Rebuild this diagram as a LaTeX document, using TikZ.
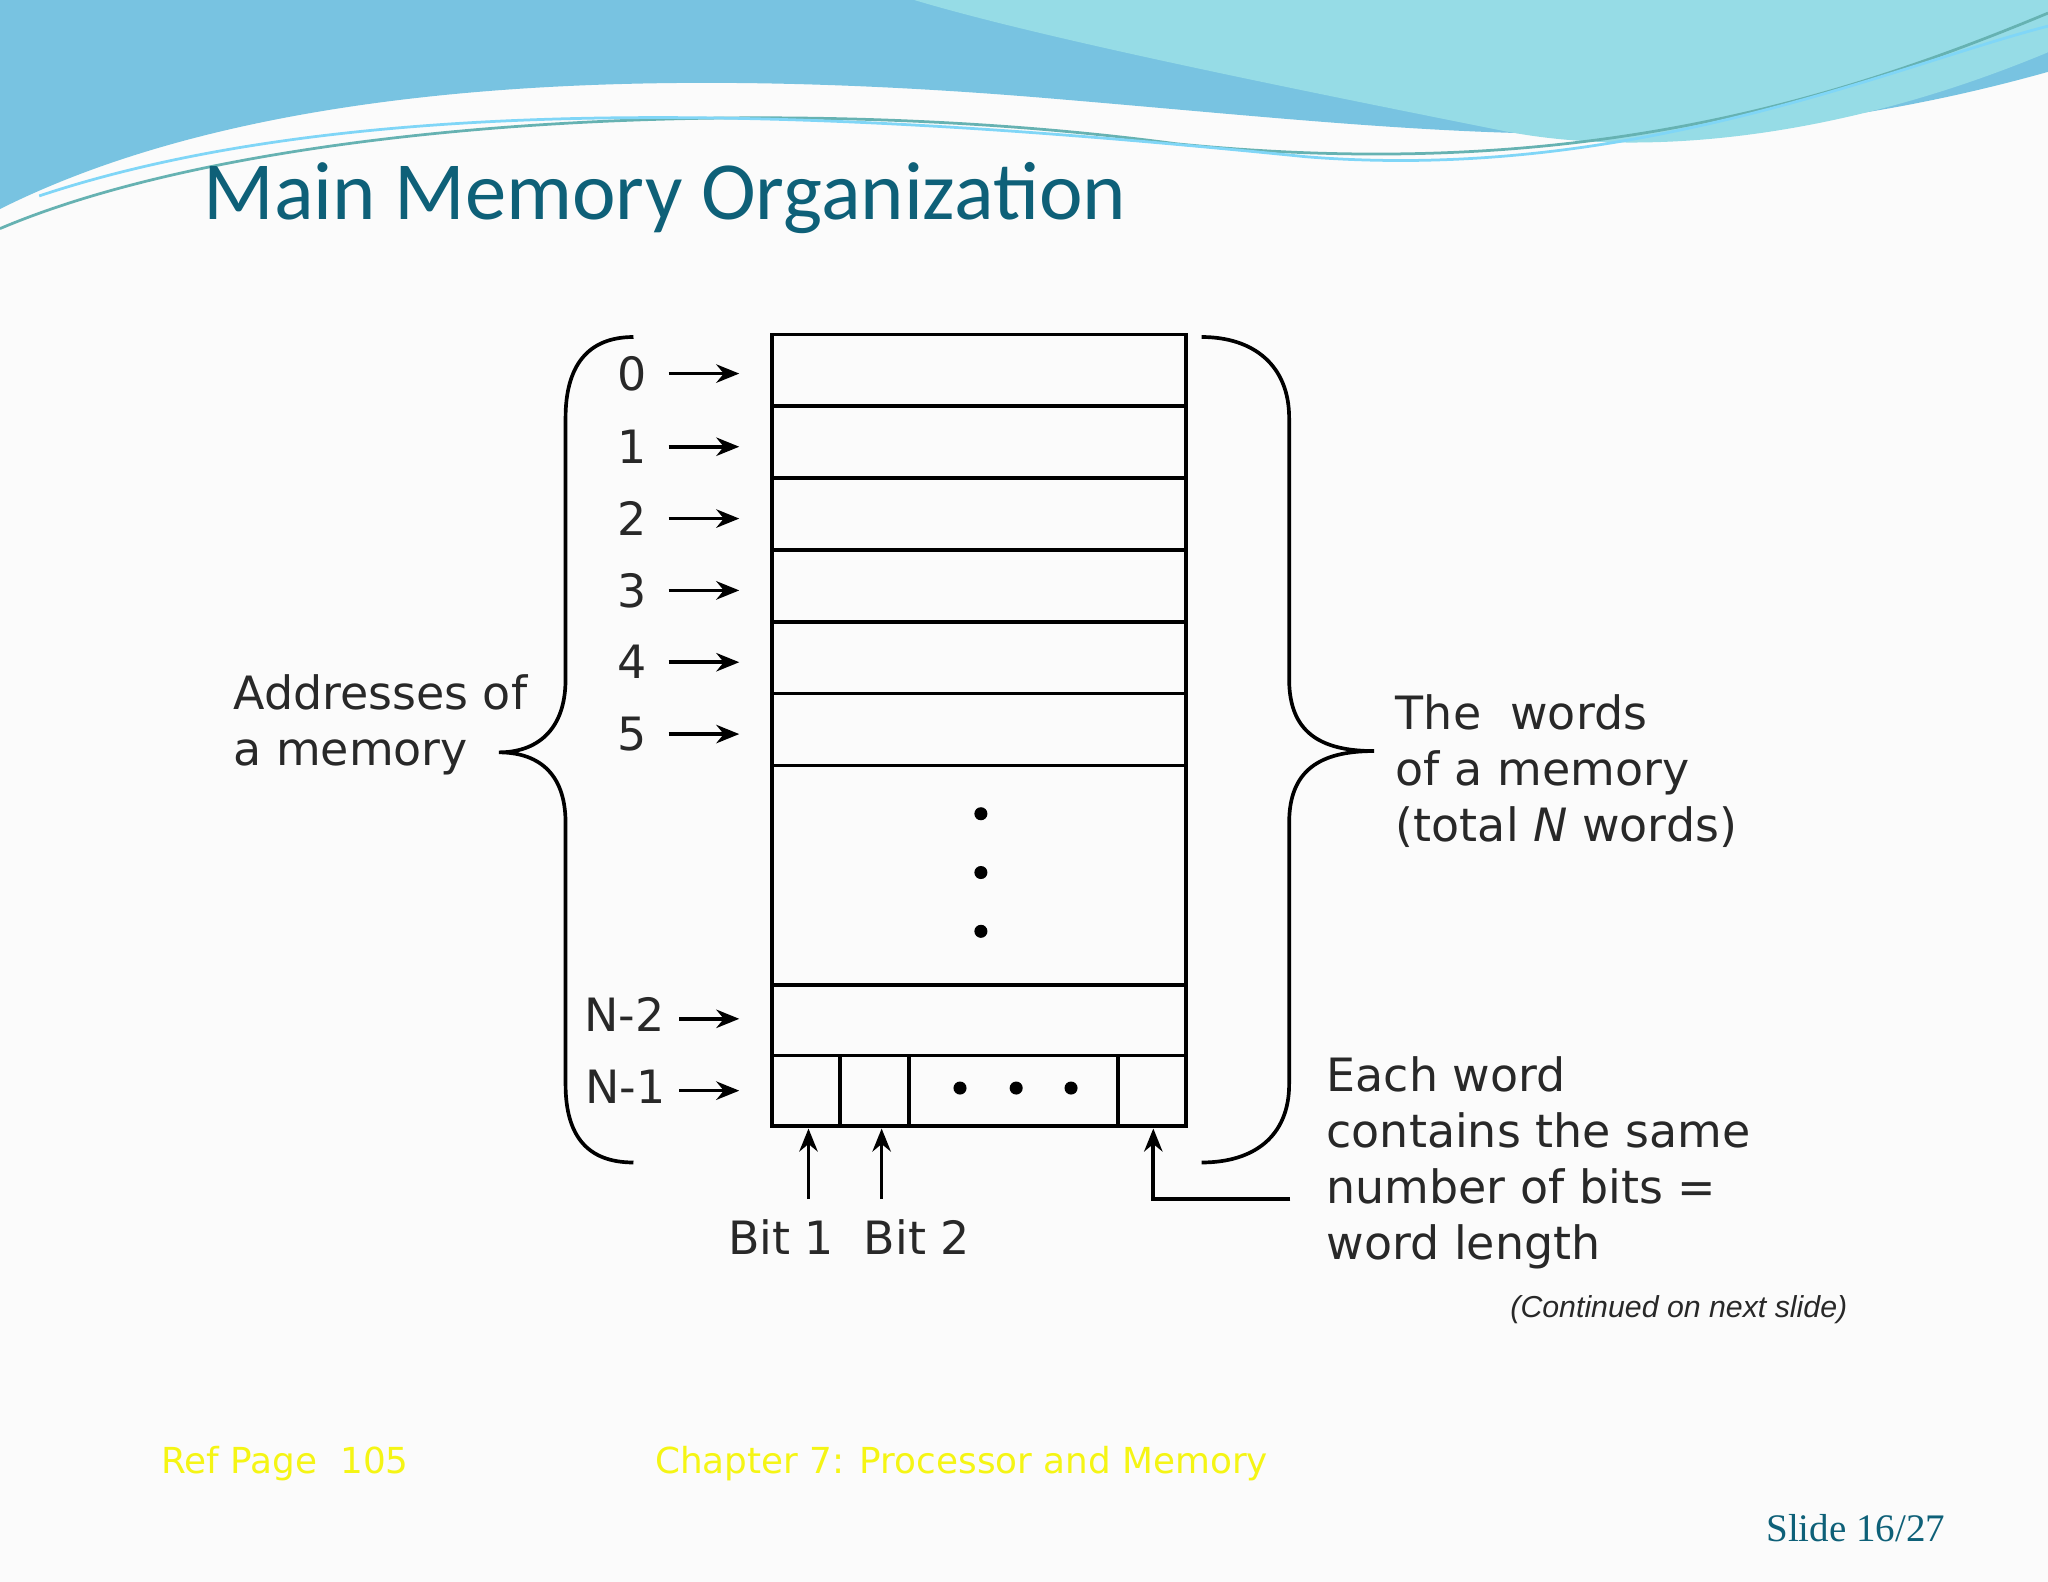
\documentclass[tikz,border=0pt]{standalone}
\usepackage{fontspec}
\setmainfont{DejaVu Sans}
\newfontfamily\titlef{Carlito}
\newfontfamily\arialf{Liberation Sans}
\newfontfamily\serf{Liberation Serif}
\usetikzlibrary{arrows.meta}
\definecolor{ttl}{RGB}{14,96,120}
\definecolor{txt}{RGB}{40,40,40}
\definecolor{yel}{RGB}{245,245,20}
\definecolor{wave1}{RGB}{120,195,225}
\definecolor{wave2}{RGB}{150,220,230}
\begin{document}
\begin{tikzpicture}[
  lbl/.style={font=\fontsize{10}{12.2}\selectfont, text=txt, inner sep=0pt},
  ar/.style={-{Stealth[length=5pt,width=4pt]}, line width=0.8pt},
  ln/.style={line width=0.8pt}]
\useasboundingbox (0,0) rectangle (15.68,-12.11);
\fill[white!97!gray] (0,0) rectangle (15.68,-12.11);
% top waves
\fill[wave1] (0,0) -- (15.68,0) -- (15.68,-0.55) .. controls (13,-1.3) and (11,-1.0) .. (8,-0.75) .. controls (5,-0.5) and (2,-0.6) .. (0,-1.6) -- cycle;
\fill[wave2] (7,0) -- (15.68,0) -- (15.68,-0.4) .. controls (14,-1.1) and (12.5,-1.2) .. (11.5,-1.0) .. controls (10,-0.7) and (8,-0.3) .. (7,0) -- cycle;
\draw[teal!60, line width=0.6pt] (0,-1.75) .. controls (2,-0.9) and (6,-0.7) .. (9,-1.1) .. controls (12,-1.4) and (14,-0.8) .. (15.68,-0.1);
\draw[cyan!50, line width=0.6pt] (0.3,-1.5) .. controls (3,-0.6) and (7,-0.9) .. (10,-1.2) .. controls (12.5,-1.4) and (14.5,-0.5) .. (15.68,-0.2);
\node[anchor=base west, text=ttl, font=\titlef\fontsize{18}{20}\selectfont, inner sep=0pt] (title) at (1.55,-1.68) {Main Memory Organization};
% memory box
\draw[ln] (5.91,-2.56) rectangle (9.08,-8.62);
\foreach \y in {3.11,3.66,4.21,4.76,5.31,5.86,7.54,8.08}
  \draw[ln] (5.91,-\y) -- (9.08,-\y);
\foreach \x in {6.43,6.96,8.56}
  \draw[ln] (\x,-8.08) -- (\x,-8.62);
\foreach \y in {6.23,6.68,7.13} \fill (7.51,-\y) circle (0.05);
\foreach \x in {7.35,7.78,8.20} \fill (\x,-8.33) circle (0.05);
% addresses
\foreach \t/\y in {0/2.86,1/3.42,2/3.97,3/4.52,4/5.07,5/5.62}{
  \node[lbl] (a\t) at (4.84,-\y) {\t};
  \coordinate (s\t) at (5.12,-\y); \coordinate (e\t) at (5.66,-\y);
  \draw[ar] (s\t) -- (e\t);}
\node[lbl] (an2) at (4.78,-7.77) {N-2};
\node[lbl] (an1) at (4.79,-8.32) {N-1};
\coordinate (sn2) at (5.2,-7.80); \coordinate (en2) at (5.66,-7.80);
\coordinate (sn1) at (5.2,-8.35); \coordinate (en1) at (5.66,-8.35);
\draw[ar] (sn2) -- (en2); \draw[ar] (sn1) -- (en1);
% braces
\draw[ln] (4.85,-2.58) .. controls (4.5,-2.58) and (4.33,-2.8) .. (4.33,-3.2) -- (4.33,-5.2) .. controls (4.33,-5.6) and (4.1,-5.76) .. (3.82,-5.76) .. controls (4.1,-5.76) and (4.33,-5.9) .. (4.33,-6.3) -- (4.33,-8.3) .. controls (4.33,-8.7) and (4.5,-8.9) .. (4.85,-8.9);
\draw[ln] (9.2,-2.58) .. controls (9.6,-2.58) and (9.87,-2.8) .. (9.87,-3.2) -- (9.87,-5.2) .. controls (9.87,-5.6) and (10.1,-5.75) .. (10.52,-5.75) .. controls (10.1,-5.75) and (9.87,-5.9) .. (9.87,-6.3) -- (9.87,-8.3) .. controls (9.87,-8.7) and (9.6,-8.9) .. (9.2,-8.9);
\node[lbl, anchor=west, align=left] (addr) at (1.78,-5.55) {Addresses of\\a memory};
\node[lbl, anchor=west, align=left] (words) at (10.68,-5.9) {The \ words\\of a memory\\(total \textit{N} words)};
\node[lbl, anchor=west, align=left] (each) at (10.15,-8.9) {Each word\\contains the same\\number of bits =\\word length};
% bits
\node[lbl] (b1) at (5.98,-9.47) {Bit 1};
\node[lbl] (b2) at (7.02,-9.47) {Bit 2};
\coordinate (b1s) at (6.19,-9.18); \coordinate (b1e) at (6.19,-8.64);
\coordinate (b2s) at (6.75,-9.18); \coordinate (b2e) at (6.75,-8.64);
\draw[ar] (b1s) -- (b1e); \draw[ar] (b2s) -- (b2e);
\coordinate (ws) at (9.88,-9.18); \coordinate (we) at (8.83,-8.64);
\draw[ar] (ws) -- (8.83,-9.18) -- (we);
\node[anchor=east, inner sep=0pt, text=txt, font=\arialf\itshape\fontsize{6.6}{8}\selectfont] (cont) at (14.15,-10.03) {(Continued on next slide)};
% footer
\node[anchor=base west, inner sep=0pt, text=yel, font=\fontsize{7.8}{10}\selectfont] (ref) at (1.23,-11.28) {Ref Page \ 105};
\node[anchor=base west, inner sep=0pt, text=yel, font=\fontsize{7.8}{10}\selectfont] (chap) at (5.01,-11.28) {Chapter 7: Processor and Memory};
\node[anchor=base east, inner sep=0pt, text=ttl, font=\serf\fontsize{8.5}{10}\selectfont] (slide) at (14.9,-11.8) {Slide 16/27};
\end{tikzpicture}
\end{document}
